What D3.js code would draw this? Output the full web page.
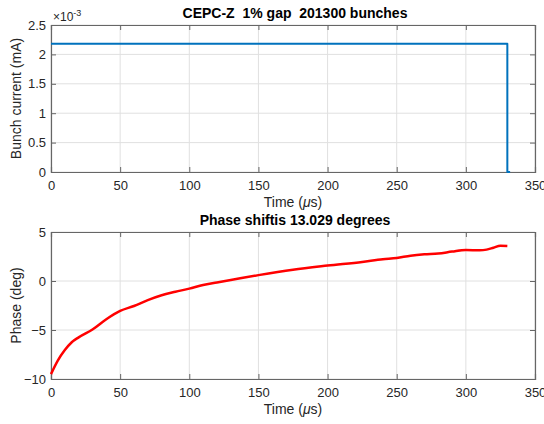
<!DOCTYPE html>
<html>
<head>
<meta charset="utf-8">
<script src="https://cdn.jsdelivr.net/npm/d3@7"></script>
<style>
body { margin: 0; background: #fff; }
text { font-family: "Liberation Sans", Arial, sans-serif; fill: #262626; }
.grid line { stroke: #e0e0e0; stroke-width: 1; }
.title { font-weight: bold; font-size: 14px; fill: #000; white-space: pre; }
.tick text { font-size: 13px; }
.lbl { font-size: 14px; }
</style>
</head>
<body>
<script>
// top panel: bunch current vs time
var currentTime = [0, 330, 330, 332];
var currentVal = [2.18e-3, 2.18e-3, 0, 0];
var currentTicks = [0, 0.5e-3, 1e-3, 1.5e-3, 2e-3, 2.5e-3];

// bottom panel: phase vs time
var phaseTime = [0, 5, 10, 15, 20, 30, 40, 50, 60, 70, 80, 90, 100, 110, 120, 130, 150, 175, 200, 225, 240, 250, 260, 270, 280, 290, 300, 310, 315, 320, 325, 330];
var phaseVal = [-9.5, -8.1, -7.05, -6.25, -5.75, -4.95, -3.9, -3.05, -2.55, -1.95, -1.45, -1.1, -0.78, -0.4, -0.15, 0.1, 0.6, 1.15, 1.57, 1.95, 2.22, 2.35, 2.58, 2.72, 2.8, 3.0, 3.17, 3.13, 3.2, 3.4, 3.6, 3.58];
var phaseTicks = [-10, -5, 0, 5];

var timeTicks = [0, 50, 100, 150, 200, 250, 300, 350];

var svg = d3.select('body').append('svg')
  .attr('width', 544)
  .attr('height', 424);

var left = 51, right = 535;
var x = d3.scaleLinear().domain([0, 350]).range([left, right]);

function panel(top, bottom, yDomain, yTicks, yFmt, title, ylabel, xs, ys, color, lw, curve) {
  var y = d3.scaleLinear().domain(yDomain).range([bottom, top]);
  var g = svg.append('g');

  // grid
  var grid = g.append('g').attr('class', 'grid');
  grid.selectAll('.gx').data(timeTicks).enter().append('line')
    .attr('x1', d => x(d)).attr('x2', d => x(d))
    .attr('y1', top).attr('y2', bottom);
  grid.selectAll('.gy').data(yTicks).enter().append('line')
    .attr('x1', left).attr('x2', right)
    .attr('y1', d => y(d)).attr('y2', d => y(d));

  // axes, ticks pointing inward like matlab
  var ax = g.append('g').attr('transform', 'translate(0,' + bottom + ')')
    .call(d3.axisBottom(x).tickValues(timeTicks).tickSize(-5).tickPadding(9).tickFormat(d3.format('d')));
  var ay = g.append('g').attr('transform', 'translate(' + left + ',0)')
    .call(d3.axisLeft(y).tickValues(yTicks).tickSize(-5).tickPadding(5).tickFormat(yFmt));
  var axT = g.append('g').attr('transform', 'translate(0,' + top + ')')
    .call(d3.axisTop(x).tickValues(timeTicks).tickSize(-5).tickFormat(''));
  var ayR = g.append('g').attr('transform', 'translate(' + right + ',0)')
    .call(d3.axisRight(y).tickValues(yTicks).tickSize(-5).tickFormat(''));
  [ax, ay, axT, ayR].forEach(function(a) {
    a.selectAll('.domain').attr('stroke', '#666').attr('stroke-width', 1.2);
    a.selectAll('.tick line').attr('stroke', '#666');
    a.selectAll('.tick text').attr('fill', '#333');
  });

  // data line
  var line = d3.line().x(d => x(d[0])).y(d => y(d[1])).curve(curve);
  g.append('path')
    .datum(xs.map((t, i) => [t, ys[i]]))
    .attr('fill', 'none')
    .attr('stroke', color)
    .attr('stroke-width', lw)
    .attr('stroke-linejoin', 'round')
    .attr('d', line);

  // title
  g.append('text').attr('class', 'title')
    .attr('x', (left + right) / 2 + 2).attr('y', top - 7)
    .attr('text-anchor', 'middle').text(title);

  // x label
  var xl = g.append('text').attr('class', 'lbl')
    .attr('x', (left + right) / 2).attr('y', bottom + 35)
    .attr('text-anchor', 'middle');
  xl.append('tspan').text('Time (');
  xl.append('tspan').attr('font-style', 'italic').text('\u03bc');
  xl.append('tspan').text('s)');

  // y label
  g.append('text').attr('class', 'lbl')
    .attr('transform', 'translate(21,' + (top + bottom) / 2 + ') rotate(-90)')
    .attr('text-anchor', 'middle').text(ylabel);

  return g;
}

var g1 = panel(25, 172, [0, 2.5e-3], currentTicks, d => d3.format('~g')(+(d * 1e3).toFixed(2)),
  'CEPC-Z  1% gap  201300 bunches', 'Bunch current (mA)',
  currentTime, currentVal, '#0072bd', 2, d3.curveLinear);

// exponent label
var ex = g1.append('text').attr('x', 53).attr('y', 21).attr('font-size', 12).attr('fill', '#444');
ex.append('tspan').text('\u00d710');
ex.append('tspan').attr('dy', -5).attr('font-size', 9).text('-3');

panel(232, 379, [-10, 5], phaseTicks, d3.format('d'),
  'Phase shiftis 13.029 degrees', 'Phase (deg)',
  phaseTime, phaseVal, '#ff0000', 2.5, d3.curveMonotoneX);
</script>
</body>
</html>
